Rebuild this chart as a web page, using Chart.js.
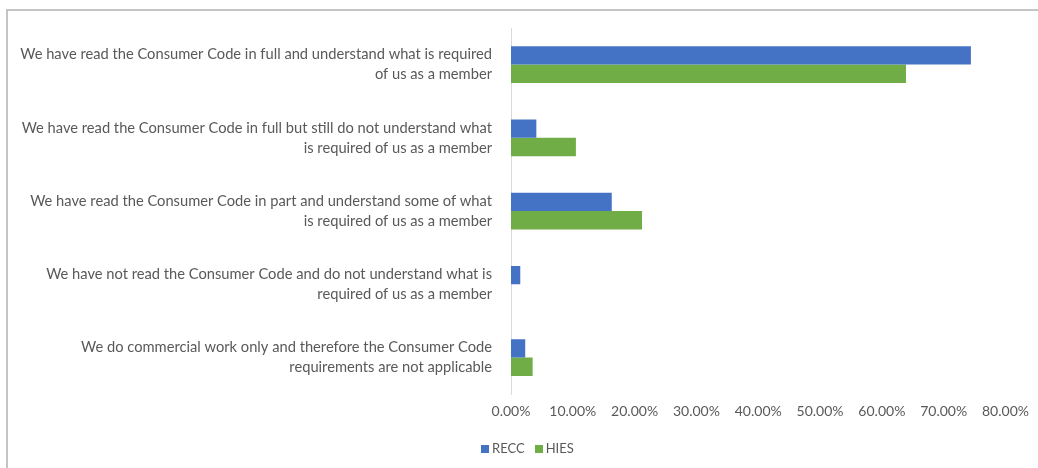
<!DOCTYPE html>
<html>
<head>
<meta charset="utf-8">
<script src="https://cdn.jsdelivr.net/npm/chart.js@4.4.1/dist/chart.umd.min.js"></script>
<style>
    html, body { margin: 0; padding: 0; background: #fff; }
    #wrap { position: relative; width: 1038px; height: 468px; overflow: hidden; }
    #frame {
        position: absolute; left: 6px; top: 9px; width: 1100px; height: 520px;
        border-top: 2px solid #c4c4c4; border-left: 2px solid #c4c4c4;
    }
    #chart { position: absolute; left: 0; top: 0; }
    #legend {
        position: absolute; left: 481px; top: 440px;
        font: 13px Lato, sans-serif; color: #595959; display: flex; gap: 10px;
    }
    #legend span.box { display: inline-block; width: 8px; height: 8px; margin-right: 3px; }
</style>
</head>
<body>
<div id="wrap">
    <div id="frame"></div>
    <canvas id="chart" width="1038" height="468"></canvas>
    <div id="legend"></div>
</div>
<script>
// Survey answers, one entry per line of the label
const answers = [
    ['We have read the Consumer Code in full and understand what is required', 'of us as a member'],
    ['We have read the Consumer Code in full but still do not understand what', 'is required of us as a member'],
    ['We have read the Consumer Code in part and understand some of what', 'is required of us as a member'],
    ['We have not read the Consumer Code and do not understand what is', 'required of us as a member'],
    ['We do commercial work only and therefore the Consumer Code', 'requirements are not applicable']
];

// Share of respondents (%)
const reccValues = [74.4, 4.1, 16.3, 1.5, 2.3];
const hiesValues = [63.9, 10.5, 21.2, 0, 3.5];

const axisTicks = [0, 10, 20, 30, 40, 50, 60, 70, 80];

const TEXT = '#595959';
const FONT = 'Lato, sans-serif';

const chart = new Chart(document.getElementById('chart'), {
    type: 'bar',
    data: {
        labels: answers,
        datasets: [
            { label: 'RECC', data: reccValues, backgroundColor: '#4472C4' },
            { label: 'HIES', data: hiesValues, backgroundColor: '#70AD47' }
        ]
    },
    options: {
        indexAxis: 'y',
        responsive: false,
        animation: false,
        categoryPercentage: 0.5,
        barPercentage: 1.0,
        layout: { padding: { left: 0, right: 32, top: 28, bottom: 39 } },
        scales: {
            x: {
                min: 0,
                max: 80,
                afterBuildTicks: (scale) => {
                    scale.ticks = axisTicks.map(v => ({ value: v }));
                },
                grid: { display: false, drawTicks: false },
                border: { display: false },
                ticks: {
                    color: TEXT,
                    font: { family: FONT, size: 14 },
                    padding: 9,
                    maxRotation: 0,
                    callback: (v) => v.toFixed(2) + '%'
                }
            },
            y: {
                // fixed label column; the multi-line labels sit well inside their bands
                afterFit: (scale) => {
                    scale.width = 511;
                    scale.paddingTop = 0;
                    scale.paddingBottom = 0;
                },
                grid: { color: 'rgba(0,0,0,0)', drawTicks: false },
                border: { display: true, color: '#d9d9d9', width: 1 },
                ticks: {
                    color: TEXT,
                    font: { family: FONT, size: 14.7, lineHeight: 1.36 },
                    padding: 19
                }
            }
        },
        plugins: {
            legend: { display: false },
            tooltip: { enabled: false }
        }
    }
});

// Legend built from the chart's datasets
const legend = document.getElementById('legend');
chart.data.datasets.forEach(ds => {
    const item = document.createElement('div');
    item.innerHTML = '<span class="box" style="background:' + ds.backgroundColor + '"></span>' + ds.label;
    legend.appendChild(item);
});
</script>
</body>
</html>
